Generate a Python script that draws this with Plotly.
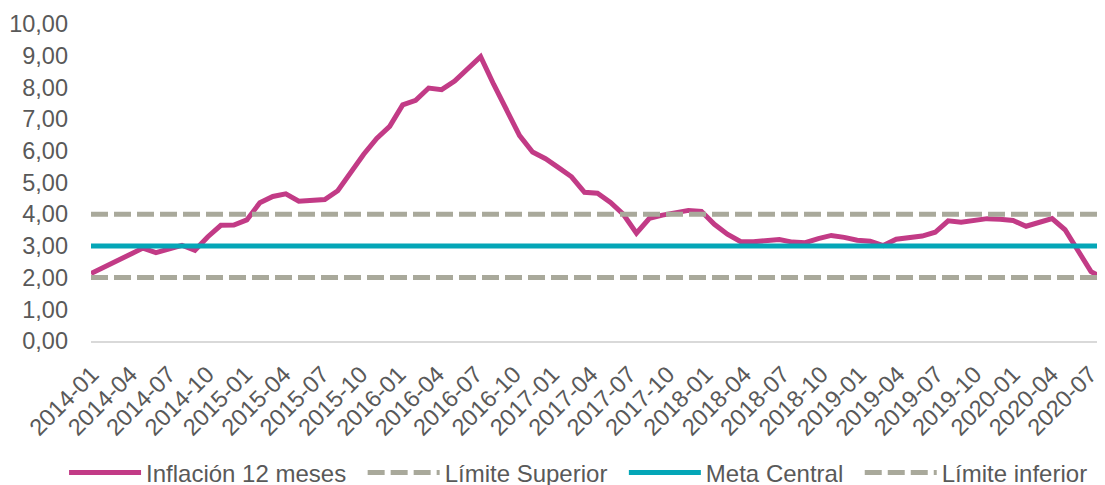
import plotly.graph_objects as go

# Monthly categories 2014-01 .. 2020-07
months = [f"{y}-{m:02d}" for y in range(2014, 2021) for m in range(1, 13)][:79]

inflacion = [
    2.13, 2.32, 2.51, 2.72, 2.93, 2.79, 2.89, 3.02, 2.86, 3.29, 3.65, 3.66,   # 2014
    3.82, 4.36, 4.56, 4.64, 4.41, 4.42, 4.46, 4.74, 5.35, 5.89, 6.39, 6.77,   # 2015
    7.45, 7.59, 7.98, 7.93, 8.20, 8.60, 8.97, 8.10, 7.27, 6.48, 5.96, 5.75,   # 2016
    5.47, 5.18, 4.69, 4.66, 4.37, 3.99, 3.40, 3.87, 3.97, 4.05, 4.12, 4.09,   # 2017
    3.68, 3.37, 3.14, 3.13, 3.16, 3.20, 3.12, 3.10, 3.23, 3.33, 3.27, 3.18,   # 2018
    3.15, 3.01, 3.21, 3.25, 3.31, 3.43, 3.79, 3.75, 3.82, 3.86, 3.84, 3.80,   # 2019
    3.62, 3.72, 3.86, 3.51, 2.85, 2.19, 1.97,                                 # 2020
]
limite_superior = [4.0] * len(months)
meta_central = [3.0] * len(months)
limite_inferior = [2.0] * len(months)

tick_labels = months[::3]
tick_index = [months.index(t) for t in tick_labels]

MAGENTA = "#C23B86"
TEAL = "#04A6B7"
GRAY = "#A9A99B"
TEXT = "#595959"
NB = "\u00a0\u2009"

fig = go.Figure()
# empty trace so the label-only axis (x2) gets drawn (added first, drawn underneath)
fig.add_trace(go.Scatter(x=tick_index, y=[None] * len(tick_index), xaxis="x2", yaxis="y",
                         mode="lines", showlegend=False, hoverinfo="skip"))
fig.add_trace(go.Scatter(x=months, y=inflacion, mode="lines", name="Inflación 12 meses" + NB,
                         line=dict(color=MAGENTA, width=5)))
fig.add_trace(go.Scatter(x=months, y=limite_superior, mode="lines", name="Límite Superior" + NB,
                         line=dict(color=GRAY, width=5, dash="17px,6px")))
fig.add_trace(go.Scatter(x=months, y=meta_central, mode="lines", name="Meta Central" + NB,
                         line=dict(color=TEAL, width=5)))
fig.add_trace(go.Scatter(x=months, y=limite_inferior, mode="lines", name="Límite inferior",
                         line=dict(color=GRAY, width=5, dash="17px,6px")))

# The page body keeps its default 8px margin, so the figure is 8px smaller
fig.update_layout(
    width=1097, height=477,
    margin=dict(l=83, r=1, t=16, b=144, autoexpand=False),
    paper_bgcolor="white", plot_bgcolor="rgba(0,0,0,0)",
    separators=",.",
    font=dict(family="Liberation Sans, Arial, sans-serif", size=23.5, color=TEXT),
    showlegend=True,
    legend=dict(orientation="h", x=-0.0266, xanchor="left", y=-0.416, yanchor="middle",
                font=dict(size=24, color=TEXT), itemwidth=72, traceorder="normal",
                bgcolor="rgba(0,0,0,0)"),
    hovermode=False,
)
fig.update_layout(
    xaxis=dict(
        type="category", categoryorder="array", categoryarray=months,
        range=[0, len(months) - 1], domain=[0, 1],
        showticklabels=False, showgrid=False, zeroline=False,
        showline=True, linecolor="#D9D9D9", linewidth=1.5,
        ticks="", automargin=False,
    ),
    # label-only axis: the reference spaces its category labels slightly tighter
    xaxis2=dict(
        type="linear", range=[0, len(months) - 1], domain=[0.001, 0.986],
        anchor="y", side="bottom",
        tickmode="array", tickvals=tick_index, ticktext=tick_labels,
        tickangle=-45, showgrid=False, zeroline=False, showline=False,
        ticks="", ticklabelstandoff=14, automargin=False,
        tickfont=dict(size=23.5, color=TEXT),
    ),
    yaxis=dict(
        range=[0, 10], dtick=1, tick0=0, tickformat=".2f",
        showgrid=False, zeroline=False, showline=False,
        ticks="", ticklabelstandoff=22, automargin=False,
        tickfont=dict(size=23.5, color=TEXT),
    ),
)

fig.write_html("out.html")
